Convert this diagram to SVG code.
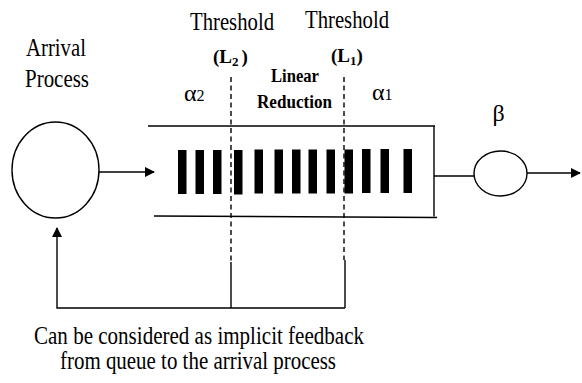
<svg xmlns="http://www.w3.org/2000/svg" width="582" height="383" viewBox="0 0 582 383">
<style>
text{font-family:'Liberation Serif','Times New Roman',Times,serif;fill:#000}
.ln{stroke:#000;stroke-width:1.4;fill:none}
.ds{stroke:#000;stroke-width:1.4;fill:none;stroke-dasharray:5,3.5}
.bar{fill:#000}
</style>
<defs>
<marker id="ah" markerWidth="10" markerHeight="10" refX="9" refY="5" orient="auto" markerUnits="userSpaceOnUse">
<path d="M0,0 L10,5 L0,10 Z" fill="#000"/>
</marker>
</defs>
<rect width="582" height="383" fill="#fff"/>
<g id="arrival">
<ellipse cx="55.5" cy="170" rx="43.5" ry="48" class="ln"/>
<text x="26" y="56" font-size="26" textLength="60" lengthAdjust="spacingAndGlyphs">Arrival</text>
<text x="25" y="87" font-size="26" textLength="64" lengthAdjust="spacingAndGlyphs">Process</text>
</g>
<g id="queue">
<line x1="148" y1="126" x2="435" y2="126" class="ln"/>
<line x1="154" y1="216" x2="437" y2="217.5" class="ln"/>
<line x1="434" y1="126" x2="434" y2="216.5" class="ln"/>
<rect class="bar" x="178" y="150" width="8.5" height="44"/>
<rect class="bar" x="195.5" y="150" width="8.5" height="44"/>
<rect class="bar" x="213" y="150" width="8.5" height="44"/>
<rect class="bar" x="234" y="150" width="8.5" height="44.5"/>
<rect class="bar" x="254.5" y="149.5" width="8.5" height="44"/>
<rect class="bar" x="274.5" y="149.5" width="8.5" height="44"/>
<rect class="bar" x="292" y="149.5" width="8.5" height="44"/>
<rect class="bar" x="308.5" y="149.5" width="8.5" height="44"/>
<rect class="bar" x="326.5" y="149.5" width="8.5" height="44"/>
<rect class="bar" x="344.5" y="149.5" width="8.5" height="44"/>
<rect class="bar" x="362" y="149" width="8.5" height="44"/>
<rect class="bar" x="380.5" y="149" width="8.5" height="44"/>
<rect class="bar" x="403.5" y="149" width="8.5" height="44"/>
<text x="271" y="82" font-size="18" font-weight="bold" textLength="48" lengthAdjust="spacingAndGlyphs">Linear</text>
<text x="257" y="108" font-size="19" font-weight="bold" textLength="75" lengthAdjust="spacingAndGlyphs">Reduction</text>
</g>
<g id="threshold-L2">
<text x="190" y="30" font-size="26" textLength="84" lengthAdjust="spacingAndGlyphs">Threshold</text>
<text x="213" y="63" font-size="19" font-weight="bold">(L<tspan font-size="13" dy="3">2</tspan><tspan dy="-3" dx="3">)</tspan></text>
<text x="184" y="101" font-size="24">α<tspan font-size="16">2</tspan></text>
<line x1="231" y1="77" x2="231" y2="262" class="ds"/>
</g>
<g id="threshold-L1">
<text x="305" y="28" font-size="26" textLength="84" lengthAdjust="spacingAndGlyphs">Threshold</text>
<text x="331" y="62" font-size="19" font-weight="bold">(L<tspan font-size="13" dy="3">1</tspan><tspan dy="-3">)</tspan></text>
<text x="372" y="100" font-size="24">α<tspan font-size="16">1</tspan></text>
<line x1="344" y1="77" x2="344" y2="260" class="ds"/>
</g>
<g id="server">
<ellipse cx="500.5" cy="173.5" rx="26.5" ry="22.5" class="ln"/>
<text x="492.5" y="121" font-size="24">β</text>
</g>
<g id="connectors">
<line x1="99" y1="172" x2="154" y2="172" class="ln" marker-end="url(#ah)"/>
<line x1="434" y1="176" x2="474" y2="176" class="ln"/>
<line x1="527" y1="173" x2="580" y2="173" class="ln" marker-end="url(#ah)"/>
<polyline points="231,262 231,308" class="ln"/>
<polyline points="345,260 345,308" class="ln"/>
<polyline points="345,308 57,308 57,228" class="ln" marker-end="url(#ah)"/>
</g>
<g id="caption">
<text x="34" y="344" font-size="25" textLength="330" lengthAdjust="spacingAndGlyphs">Can be considered as implicit feedback</text>
<text x="60" y="369" font-size="25" textLength="276" lengthAdjust="spacingAndGlyphs">from queue to the arrival process</text>
</g>
</svg>
